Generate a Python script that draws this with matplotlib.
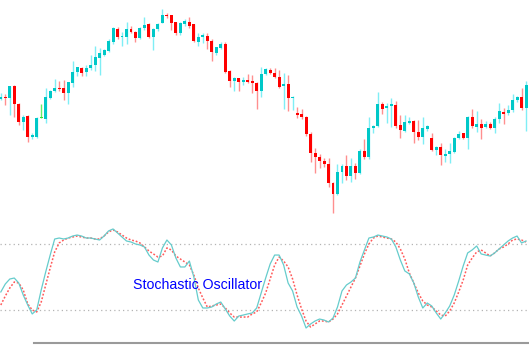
import matplotlib
matplotlib.use('Agg')
import matplotlib.pyplot as plt
import numpy as np

# candle data (price units), one entry per bar
opens = [121, 123, 122, 134, 116, 98, 104, 83, 83, 102, 101, 122, 129, 132, 132, 127, 137, 148, 152, 148,
         152, 155, 162, 165, 169, 178, 191, 183, 183, 191, 188, 182, 192, 196, 183, 191, 197, 205, 205, 198,
         187, 196, 198, 196, 178, 183, 184, 179, 167, 172, 176, 149, 139, 142, 138, 140, 139, 137, 129, 146,
         150, 147, 143, 134, 136, 122, 107, 106, 103, 86, 67, 63, 59, 56, 37, 26, 48, 54, 44, 54,
         47, 69, 63, 92, 94, 116, 112, 114, 115, 95, 89, 97, 99, 88, 83, 91, 82, 70, 73, 64,
         66, 68, 82, 87, 82, 103, 93, 96, 93, 96, 92, 101, 108, 107, 110, 120, 123, 112]
highs = [127, 126, 134, 135, 117, 105, 105, 87, 103, 116, 132, 130, 141, 139, 140, 138, 159, 153, 153, 155,
         165, 174, 172, 171, 181, 193, 193, 188, 198, 194, 189, 193, 203, 197, 192, 197, 211, 207, 205, 198,
         198, 201, 203, 196, 187, 187, 187, 181, 173, 178, 178, 150, 143, 142, 143, 146, 145, 138, 153, 152,
         152, 152, 150, 147, 145, 124, 113, 111, 104, 88, 72, 66, 62, 62, 38, 56, 56, 65, 62, 57,
         71, 81, 103, 95, 128, 118, 117, 122, 119, 105, 105, 103, 100, 100, 103, 95, 87, 74, 77, 71,
         77, 83, 89, 87, 104, 111, 109, 101, 99, 98, 103, 117, 112, 115, 126, 124, 132, 139]
lows = [120, 115, 105, 103, 95, 90, 78, 81, 82, 102, 97, 121, 128, 129, 120, 116, 133, 144, 144, 144,
        150, 149, 145, 164, 168, 176, 181, 174, 176, 187, 178, 181, 190, 182, 170, 189, 197, 202, 190, 185,
        185, 194, 192, 178, 174, 177, 171, 159, 165, 171, 147, 133, 129, 129, 135, 137, 127, 111, 123, 145,
        146, 142, 132, 111, 109, 110, 102, 101, 84, 58, 47, 52, 53, 33, 7, 25, 37, 40, 38, 41,
        46, 61, 61, 87, 93, 106, 97, 93, 92, 82, 88, 96, 77, 80, 76, 89, 69, 65, 55, 58,
        57, 67, 81, 81, 71, 92, 88, 81, 92, 91, 87, 97, 96, 105, 108, 118, 110, 89]
closes = [123, 122, 134, 116, 98, 103, 83, 85, 102, 102, 123, 129, 132, 131, 127, 138, 148, 153, 147, 152,
          155, 163, 167, 170, 179, 192, 183, 184, 191, 188, 182, 192, 195, 183, 191, 196, 205, 204, 197, 187,
          197, 199, 194, 179, 183, 185, 179, 168, 173, 176, 148, 139, 142, 138, 140, 138, 137, 129, 146, 151,
          147, 143, 133, 136, 122, 123, 105, 103, 86, 67, 63, 59, 56, 37, 26, 48, 54, 44, 54, 47,
          69, 63, 92, 94, 116, 111, 114, 116, 94, 90, 98, 99, 88, 83, 92, 94, 70, 73, 65, 66,
          69, 82, 86, 82, 103, 94, 96, 92, 96, 92, 101, 109, 106, 110, 120, 123, 112, 135]

# stochastic oscillator %K and %D, one value per bar
k_line = [36.6, 43.8, 48.3, 49.2, 44.7, 33.8, 24.8, 16.7, 20.3, 38.4, 54.7, 70.0, 84.5, 85.4, 84.5, 85.4,
          87.2, 88.1, 87.2, 85.4, 85.4, 84.5, 83.6, 87.2, 91.8, 93.6, 90.0, 86.3, 82.7, 81.8, 80.0, 79.1,
          77.3, 70.0, 65.5, 63.7, 76.4, 83.6, 79.1, 67.3, 59.2, 59.2, 64.6, 50.1, 29.3, 22.1, 22.1, 23.0,
          25.7, 27.5, 21.2, 14.8, 10.3, 14.8, 15.7, 16.7, 17.6, 22.1, 35.7, 49.2, 61.9, 70.0, 70.0, 61.0,
          44.7, 37.5, 23.0, 14.8, 4.0, 7.6, 10.3, 12.1, 11.2, 9.4, 13.0, 23.0, 37.5, 42.9, 45.6, 49.2,
          63.7, 74.6, 85.4, 86.3, 88.1, 87.2, 86.3, 84.5, 77.3, 65.5, 55.6, 52.9, 44.7, 32.0, 22.1, 26.6,
          23.9, 17.6, 12.1, 17.6, 23.9, 33.8, 46.5, 60.1, 71.9, 74.6, 78.2, 71.0, 70.0, 69.1, 71.9, 75.5,
          79.1, 82.7, 85.4, 87.2, 80.9, 82.7]
d_line = [24.8, 32.9, 40.2, 45.6, 44.7, 38.4, 25.7, 20.3, 18.5, 27.5, 42.9, 58.3, 72.8, 80.9, 83.6, 85.4,
          86.3, 87.2, 86.3, 85.4, 85.4, 84.5, 84.5, 87.2, 90.9, 92.7, 90.9, 88.1, 85.4, 83.6, 82.7, 80.9,
          77.3, 73.7, 71.0, 68.2, 69.1, 76.4, 74.6, 69.1, 66.4, 63.7, 61.0, 51.9, 40.2, 31.1, 23.0, 23.9,
          24.8, 25.7, 22.1, 17.6, 13.9, 13.9, 13.9, 13.9, 16.7, 18.5, 26.6, 35.7, 48.3, 61.0, 68.2, 64.6,
          59.2, 48.3, 33.8, 21.2, 10.3, 4.9, 7.6, 10.3, 10.3, 9.4, 12.1, 16.7, 24.8, 32.9, 41.1, 49.2,
          60.1, 71.0, 80.0, 85.4, 87.2, 86.3, 85.4, 84.5, 81.8, 75.5, 66.4, 53.8, 44.7, 35.7, 28.4, 24.8,
          23.0, 19.4, 15.7, 14.8, 19.4, 26.6, 36.6, 47.4, 61.0, 67.3, 72.8, 74.6, 71.9, 69.1, 71.9, 75.5,
          77.3, 80.0, 83.6, 84.5, 83.6, 81.8]

levels = [80, 20]
label = 'Stochastic Oscillator'

fig = plt.figure(figsize=(5.29, 3.47), dpi=100)
fig.patch.set_facecolor('white')

xlim = (-0.18, 117.66)

# price panel
ax1 = fig.add_axes([0, 127 / 347, 1, 220 / 347])
ax1.set_xlim(*xlim)
ax1.set_ylim(0, 220)
ax1.axis('off')

bar_w = 0.66
for i in range(len(opens)):
    o, h, l, c = opens[i], highs[i], lows[i], closes[i]
    if o == c:
        body_col, wick_col = '#33dd33', '#66ee66'
    elif c > o:
        body_col, wick_col = '#00c8c8', '#7feef5'
    else:
        body_col, wick_col = '#ff0000', '#ff8f8f'
    ax1.vlines(i, l, h, color=wick_col, lw=1.0, zorder=1)
    bottom = min(o, c)
    height = max(abs(c - o), 1.2)
    ax1.bar(i, height, bottom=bottom, width=bar_w, color=body_col, lw=0, zorder=2)

# oscillator panel
ax2 = fig.add_axes([0, 0, 1, 127 / 347])
ax2.set_xlim(*xlim)
ax2.set_ylim(-13.2, 101.7)
ax2.axis('off')

for lv in levels:
    ax2.axhline(lv, color='#b4b4b4', lw=0.9, ls=(0, (1, 2.5)), zorder=1)

x = np.arange(len(k_line))
ax2.plot(x, k_line, color='#66cccc', lw=0.9, zorder=3)
ax2.plot(x, d_line, color='#ff5a5a', lw=1.1, ls=(0, (1.2, 1.2)), zorder=2)

ax2.axhline(-9.6, xmin=34 / 529, xmax=1, color='#9a9a9a', lw=1.5)

ax2.text(29.5, 42.9, label, color='#0000ff', fontsize=10.2,
         family=['Liberation Sans', 'DejaVu Sans'], ha='left', va='center', zorder=4)

fig.savefig('out.png', dpi=100, facecolor='white')
